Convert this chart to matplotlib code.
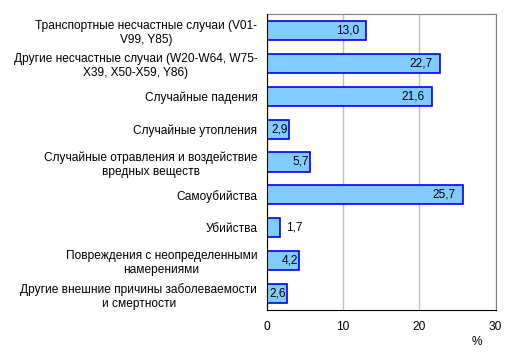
import matplotlib.pyplot as plt
import numpy as np

plt.rcParams['font.family'] = ['Liberation Sans', 'DejaVu Sans']

categories = [
    'Транспортные несчастные случаи (V01-\nV99, Y85)',
    'Другие несчастные случаи (W20-W64, W75-\nX39, X50-X59, Y86)',
    'Случайные падения',
    'Случайные утопления',
    'Случайные отравления и воздействие\nвредных веществ',
    'Самоубийства',
    'Убийства',
    'Повреждения с неопределенными\nнамерениями',
    'Другие внешние причины заболеваемости\nи смертности',
]
values = [13.0, 22.7, 21.6, 2.9, 5.7, 25.7, 1.7, 4.2, 2.6]
value_labels = ['13,0', '22,7', '21,6', '2,9', '5,7', '25,7', '1,7', '4,2', '2,6']

fs = 8.6
fig = plt.figure(figsize=(5.19, 3.58), dpi=100)
ax = fig.add_axes([267 / 519, 1 - 310 / 358, (495.5 - 267) / 519, (310 - 14) / 358])

y = np.arange(len(values))
ax.barh(y, values, height=0.58, color='#80CCFF', edgecolor='#0000FF', linewidth=1.2, zorder=3)

for yi, v, lab in zip(y, values, value_labels):
    if v < 2:
        ax.annotate(lab, (v, yi), xytext=(6, 0), textcoords='offset pixels',
                    ha='left', va='center', fontsize=fs, zorder=4)
    elif v < 10:
        ax.annotate(lab, (v, yi), xytext=(-1, 0), textcoords='offset pixels',
                    ha='right', va='center', fontsize=fs, zorder=4)
    else:
        ax.annotate(lab, (v, yi), xytext=(-7, 0), textcoords='offset pixels',
                    ha='right', va='center', fontsize=fs, zorder=4)

ax.set_xlim(0, 30)
ax.set_ylim(len(values) - 0.5, -0.5)
ax.set_xticks([0, 10, 20, 30])
ax.set_yticks(y)
ax.set_yticklabels(categories, fontsize=fs, multialignment='center', linespacing=1.25)
ax.tick_params(axis='y', length=0, pad=7)
ax.tick_params(axis='x', length=0, pad=8, labelsize=fs)
ax.grid(axis='x', color='#C0C0C0', linewidth=1, zorder=0)

for side in ['top', 'right']:
    ax.spines[side].set_color('#808080')
for side in ['left', 'bottom']:
    ax.spines[side].set_color('black')
    ax.spines[side].set_zorder(5)

fig.text(477 / 519, 1 - 342 / 358, '%', ha='center', va='center', fontsize=fs)

fig.savefig('out.png', dpi=100)
